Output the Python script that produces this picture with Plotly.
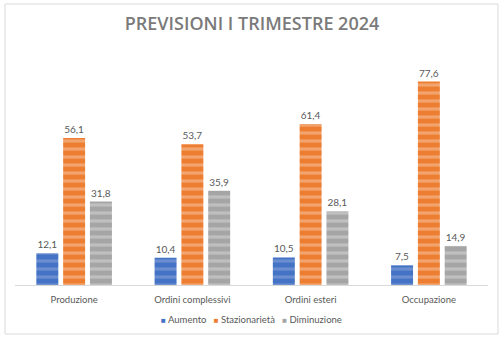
import plotly.graph_objects as go

categories = ["Produzione", "Ordini complessivi", "Ordini esteri", "Occupazione"]
aumento = [12.1, 10.4, 10.5, 7.5]
stazionarieta = [56.1, 53.7, 61.4, 77.6]
diminuzione = [31.8, 35.9, 28.1, 14.9]

series = [
    ("Aumento", aumento, "#4472C4", "#8FAADC"),
    ("Stazionarietà", stazionarieta, "#ED7D31", "#F8CBAD"),
    ("Diminuzione", diminuzione, "#A5A5A5", "#D9D9D9"),
]

FONT = "Lato, Open Sans, sans-serif"

fig = go.Figure()
for name, vals, base, light in series:
    fig.add_trace(go.Bar(
        name=name,
        x=categories,
        y=vals,
        text=[f"{v:.1f}".replace(".", ",") for v in vals],
        textposition="outside",
        textfont=dict(size=10, color="#595959", family=FONT),
        cliponaxis=False,
        showlegend=False,
        marker=dict(
            color=base,
            line=dict(width=0),
            pattern=dict(shape="-", fgcolor=light, bgcolor=base,
                          size=8, solidity=0.4, fillmode="overlay"),
        ),
    ))

L, R, T, B = 15, 16, 49, 55
W, H = 504, 340
pw, ph = W - L - R, H - T - B

def px_x(x):
    return (x - L) / pw

def px_y(y):
    return (H - B - y) / ph

# compact legend line: coloured squares followed by series names
legend_text = "&nbsp;&nbsp;&nbsp;".join(
    f"<span style='color:{base};font-size:8px'>■</span> {name}" for name, _, base, _ in series
)

fig.update_layout(
    width=W, height=H,
    margin=dict(l=L, r=R, t=T, b=B),
    paper_bgcolor="white",
    plot_bgcolor="white",
    barmode="group",
    bargap=0.32,
    bargroupgap=0.18,
    font=dict(family=FONT, color="#595959"),
    title=dict(
        text="PREVISIONI I TRIMESTRE 2024",
        x=0.5, xanchor="center",
        y=1 - 24 / H, yanchor="middle",
        font=dict(size=18, color="#7A7A7A", family="Open Sans, sans-serif", weight=600),
    ),
    xaxis=dict(
        showline=True, linecolor="#D9D9D9", linewidth=1,
        ticks="", tickfont=dict(size=9.5, color="#595959", family=FONT),
        ticklabelstandoff=6,
        showgrid=False, fixedrange=True,
    ),
    yaxis=dict(
        range=[0, 90], visible=False, showgrid=False, zeroline=False,
    ),
    showlegend=False,
    annotations=[dict(
        text=legend_text, xref="paper", yref="paper",
        x=0.5, xanchor="center", y=px_y(319), yanchor="middle",
        showarrow=False, font=dict(size=9.5, color="#595959", family=FONT),
    )],
    shapes=[dict(
        type="rect", xref="paper", yref="paper",
        x0=px_x(5), x1=px_x(498), y0=px_y(334), y1=px_y(4),
        line=dict(color="#D9D9D9", width=1), fillcolor="rgba(0,0,0,0)",
        layer="below",
    )],
)

fig.write_html("out.html")
